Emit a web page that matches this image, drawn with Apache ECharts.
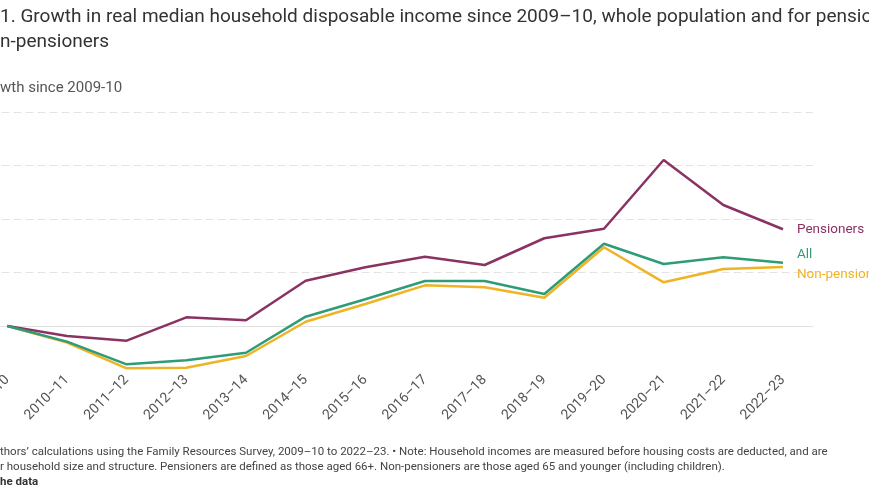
<!DOCTYPE html>
<html>
<head>
<meta charset="utf-8">
<script src="https://cdn.jsdelivr.net/npm/echarts@6/dist/echarts.min.js"></script>
<style>
html,body{margin:0;padding:0;background:#fff;}
#chart{width:869px;height:504px;}
</style>
</head>
<body>
<div id="chart"></div>
<script>
const categories = ['2009–10','2010–11','2011–12','2012–13','2013–14','2014–15','2015–16','2016–17','2017–18','2018–19','2019–20','2020–21','2021–22','2022–23'];
const pensioners = [0, -0.93, -1.37, 0.81, 0.53, 4.23, 5.49, 6.48, 5.70, 8.20, 9.09, 15.51, 11.31, 9.04];
const allPop = [0, -1.46, -3.58, -3.2, -2.5, 0.87, 2.50, 4.21, 4.21, 2.99, 7.69, 5.79, 6.42, 5.92];
const nonPensioners = [0, -1.55, -3.96, -3.9, -2.8, 0.40, 2.06, 3.80, 3.62, 2.64, 7.36, 4.08, 5.33, 5.51];
const gridValues = [0, 5, 10, 15, 20];

const FONT = 'Roboto, "Noto Sans", sans-serif';
const C_PEN = '#8a3363';
const C_ALL = '#2e9c77';
const C_NON = '#efb324';

const chart = echarts.init(document.getElementById('chart'), null, {renderer: 'canvas'});

function series(name, data, color, offY, z) {
  return {
    name: name,
    type: 'line',
    data: data,
    z: z,
    symbol: 'none',
    lineStyle: {color: color, width: 2.5},
    itemStyle: {color: color},
    endLabel: {
      show: true,
      formatter: name,
      color: color,
      fontFamily: FONT,
      fontSize: 13.5,
      distance: 14,
      offset: [0, offY]
    },
    emphasis: {disabled: true}
  };
}

const s1 = series('Pensioners', pensioners, C_PEN, 0, 3);
const s2 = series('All', allPop, C_ALL, -8, 4);
const s3 = series('Non-pensioners', nonPensioners, C_NON, 8, 2);
s3.markLine = {
  silent: true,
  symbol: 'none',
  label: {show: false},
  lineStyle: {color: '#e3e3e3', type: [8, 4], width: 1},
  data: gridValues.map(v => ({yAxis: v})),
  z: 1
};

chart.setOption({
  animation: false,
  backgroundColor: '#fff',
  grid: {left: -22.5, right: 56.2, top: 112, bottom: 135.2, containLabel: false, outerBoundsMode: 'none'},
  xAxis: {
    type: 'category',
    data: categories,
    boundaryGap: true,
    axisLine: {lineStyle: {color: '#dedede', width: 1}},
    axisTick: {alignWithLabel: true, length: 5, lineStyle: {color: '#dedede'}},
    axisLabel: {rotate: 45, color: '#555', fontFamily: FONT, fontSize: 14, margin: 9},
    splitLine: {show: false}
  },
  yAxis: {
    type: 'value',
    min: -4,
    max: 20,
    axisLine: {show: false},
    axisTick: {show: false},
    axisLabel: {show: false},
    splitLine: {show: false}
  },
  series: [s3, s1, s2],
  graphic: [
    {type: 'text', left: 0, top: 8, style: {text: '1. Growth in real median household disposable income since 2009–10, whole population and for pensioners and', font: '19px ' + FONT, fill: '#333'}},
    {type: 'text', left: 0, top: 33, style: {text: 'n-pensioners', font: '19px ' + FONT, fill: '#333'}},
    {type: 'text', left: 0, top: 81, style: {text: 'wth since 2009-10', font: '15px ' + FONT, fill: '#555'}},
    {type: 'text', left: 0, top: 446, style: {text: 'thors’ calculations using the Family Resources Survey, 2009–10 to 2022–23. • Note: Household incomes are measured before housing costs are deducted, and are', font: '11.5px ' + FONT, fill: '#444'}},
    {type: 'text', left: 0, top: 461, style: {text: 'r household size and structure. Pensioners are defined as those aged 66+. Non-pensioners are those aged 65 and younger (including children).', font: '11.5px ' + FONT, fill: '#444'}},
    {type: 'text', left: 0, top: 476, style: {text: 'he data', font: 'bold 11.5px ' + FONT, fill: '#333'}}
  ]
});
</script>
</body>
</html>
